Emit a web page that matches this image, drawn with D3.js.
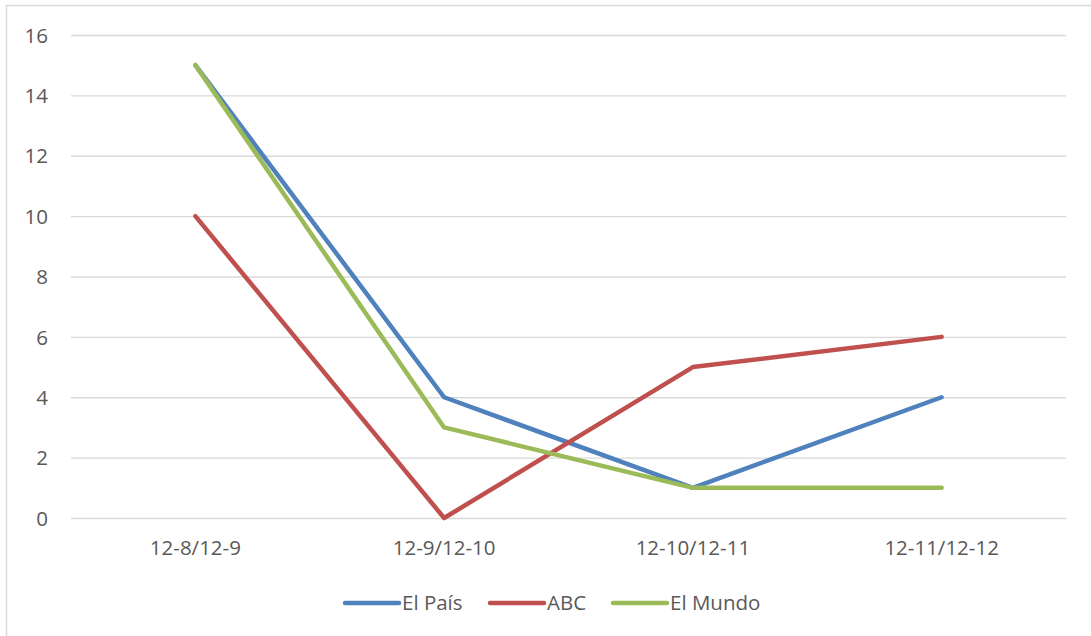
<!DOCTYPE html>
<html>
<head>
<meta charset="utf-8">
<script src="https://cdn.jsdelivr.net/npm/d3@7"></script>
<style>
  body { margin: 0; background: #fff; }
  text { font-family: "Open Sans", "Noto Sans", sans-serif; fill: #595959; }
</style>
</head>
<body>
<div id="main"></div>
<script>
var categories = ["12-8/12-9", "12-9/12-10", "12-10/12-11", "12-11/12-12"];
var seriesNames = ["El País", "ABC", "El Mundo"];
var elPais = [15, 4, 1, 4];
var abc = [10, 0, 5, 6];
var elMundo = [15, 3, 1, 1];
var yTicks = [0, 2, 4, 6, 8, 10, 12, 14, 16];
var colors = ["#4F81BD", "#C0504D", "#9BBB59"];

var series = [elPais, abc, elMundo].map(function(v, i) {
  return { name: seriesNames[i], values: v, color: colors[i] };
});

var width = 1091, height = 636;
var svg = d3.select("#main").append("svg")
  .attr("width", width)
  .attr("height", height);//create canvas

svg.append("rect")
  .attr("x", 6.5).attr("y", 5.5)
  .attr("width", 1090).attr("height", 640)
  .attr("fill", "#fff")
  .attr("stroke", "#d9d9d9")
  .attr("stroke-width", 1.5);//chart border

var xScale = d3.scaleBand()
  .domain(categories)
  .range([71, 1066]);//category scale
var yScale = d3.scaleLinear()
  .domain([0, 16])
  .range([518, 35]);//value scale

var yAxis = d3.axisLeft(yScale).tickValues(yTicks).tickSize(-(1066 - 71)).tickPadding(23);
var gy = svg.append("g")
  .attr("transform", "translate(71,0)")
  .call(yAxis);
gy.select(".domain").remove();
gy.selectAll(".tick line").attr("stroke", "#d9d9d9").attr("stroke-width", 1.3);
gy.selectAll(".tick text").style("font-size", "20.5px").attr("dy", "0.35em");//gridlines and y labels

var xAxis = d3.axisBottom(xScale).tickSize(0).tickPadding(0);
var gx = svg.append("g")
  .attr("transform", "translate(0,518)")
  .call(xAxis);
gx.select(".domain").remove();
gx.selectAll(".tick text").style("font-size", "20.5px").attr("dy", null).attr("y", 37);//x labels

var line = d3.line()
  .x(function(d, i) { return xScale(categories[i]) + xScale.bandwidth() / 2; })
  .y(function(d) { return yScale(d); });

svg.append("g").selectAll("path").data(series).enter().append("path")
  .attr("d", function(d) { return line(d.values); })
  .attr("fill", "none")
  .attr("stroke", function(d) { return d.color; })
  .attr("stroke-width", 4.5)
  .attr("stroke-linejoin", "round")
  .attr("stroke-linecap", "round");//draw lines

var legendX = [345, 490, 613];
var legend = svg.selectAll(".legend").data(series).enter().append("g")
  .attr("class", "legend")
  .attr("transform", function(d, i) { return "translate(" + legendX[i] + ",603)"; });
legend.append("line")
  .attr("x1", 0).attr("x2", 54)
  .attr("stroke", function(d) { return d.color; })
  .attr("stroke-width", 4.5)
  .attr("stroke-linecap", "round");
legend.append("text")
  .attr("x", 57)
  .attr("dy", "0.35em")
  .style("font-size", "20.5px")
  .text(function(d) { return d.name; });//legend
</script>
</body>
</html>
